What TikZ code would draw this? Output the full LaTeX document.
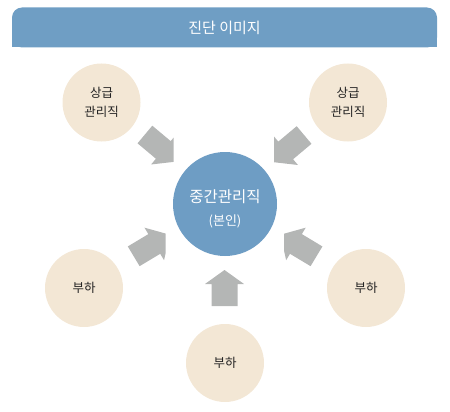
\documentclass[tikz,border=0pt]{standalone}
\usepackage{fontspec}
\setmainfont{Noto Sans CJK KR}
\definecolor{titlebg}{HTML}{6F9EC4}
\definecolor{centerbg}{HTML}{6E9DC4}
\definecolor{beige}{HTML}{F3E7D5}
\definecolor{arrowgray}{HTML}{B4B6B5}
\definecolor{txtdark}{HTML}{222222}
\tikzset{
  peer/.style={circle, fill=beige, draw=none, minimum size=78pt, inner sep=0pt,
    text=txtdark, align=center, font=\fontsize{12.5}{19}\selectfont},
  diagarrow/.pic={\fill[arrowgray] (-21,-11.5) -- (3,-11.5) -- (3,-19) -- (21,0) -- (3,19) -- (3,11.5) -- (-21,11.5) -- cycle;},
  uparrowpic/.pic={\fill[arrowgray] (-18,-13) -- (4,-13) -- (4,-19.5) -- (18,0) -- (4,19.5) -- (4,13) -- (-18,13) -- cycle;}
}
\begin{document}
\begin{tikzpicture}[x=1pt,y=-1pt]
\useasboundingbox (0,0) rectangle (450,412);
% title bar
\fill[titlebg] (12,27.5) rectangle (437,47.5);
\node[fill=titlebg, rounded corners=10pt, minimum width=425pt, minimum height=40pt,
      inner sep=0pt, text=white, font=\fontsize{15}{17}\selectfont] (title) at (224.5,27.5) {진단 이미지};
% circles
\node[circle, fill=centerbg, minimum size=104pt, inner sep=0pt] (center) at (225,204) {};
\node[text=white, inner sep=0pt, font=\fontsize{15.5}{18}\selectfont] (ctext1) at (225,196.5) {중간관리직};
\node[text=white, inner sep=0pt, font=\fontsize{13}{16}\selectfont] (ctext2) at (225,221.5) {(본인)};
\node[peer] (tl) at (101.5,102.5) {상급\\관리직};
\node[peer] (tr) at (348,102.5) {상급\\관리직};
\node[peer] (bl) at (84,288) {부하};
\node[peer] (br) at (366,288) {부하};
\node[peer] (bm) at (225,363) {부하};
% arrows
\begin{scope}
  \clip (0,0) rectangle (173.5,164);
  \pic (atl) [rotate=-40] at (161,148) {diagarrow};
\end{scope}
\begin{scope}
  \clip (274,0) rectangle (450,165);
  \pic (atr) [rotate=-140] at (288,148.5) {diagarrow};
\end{scope}
\begin{scope}
  \clip (0,220) rectangle (165.5,280);
  \pic (abl) [rotate=31] at (151.7,245.5) {diagarrow};
\end{scope}
\begin{scope}
  \clip (284,220) rectangle (450,280);
  \pic (abr) [rotate=149] at (298.5,245.5) {diagarrow};
\end{scope}
\pic (abm) [rotate=90] at (224.5,288) {uparrowpic};
\end{tikzpicture}
\end{document}
